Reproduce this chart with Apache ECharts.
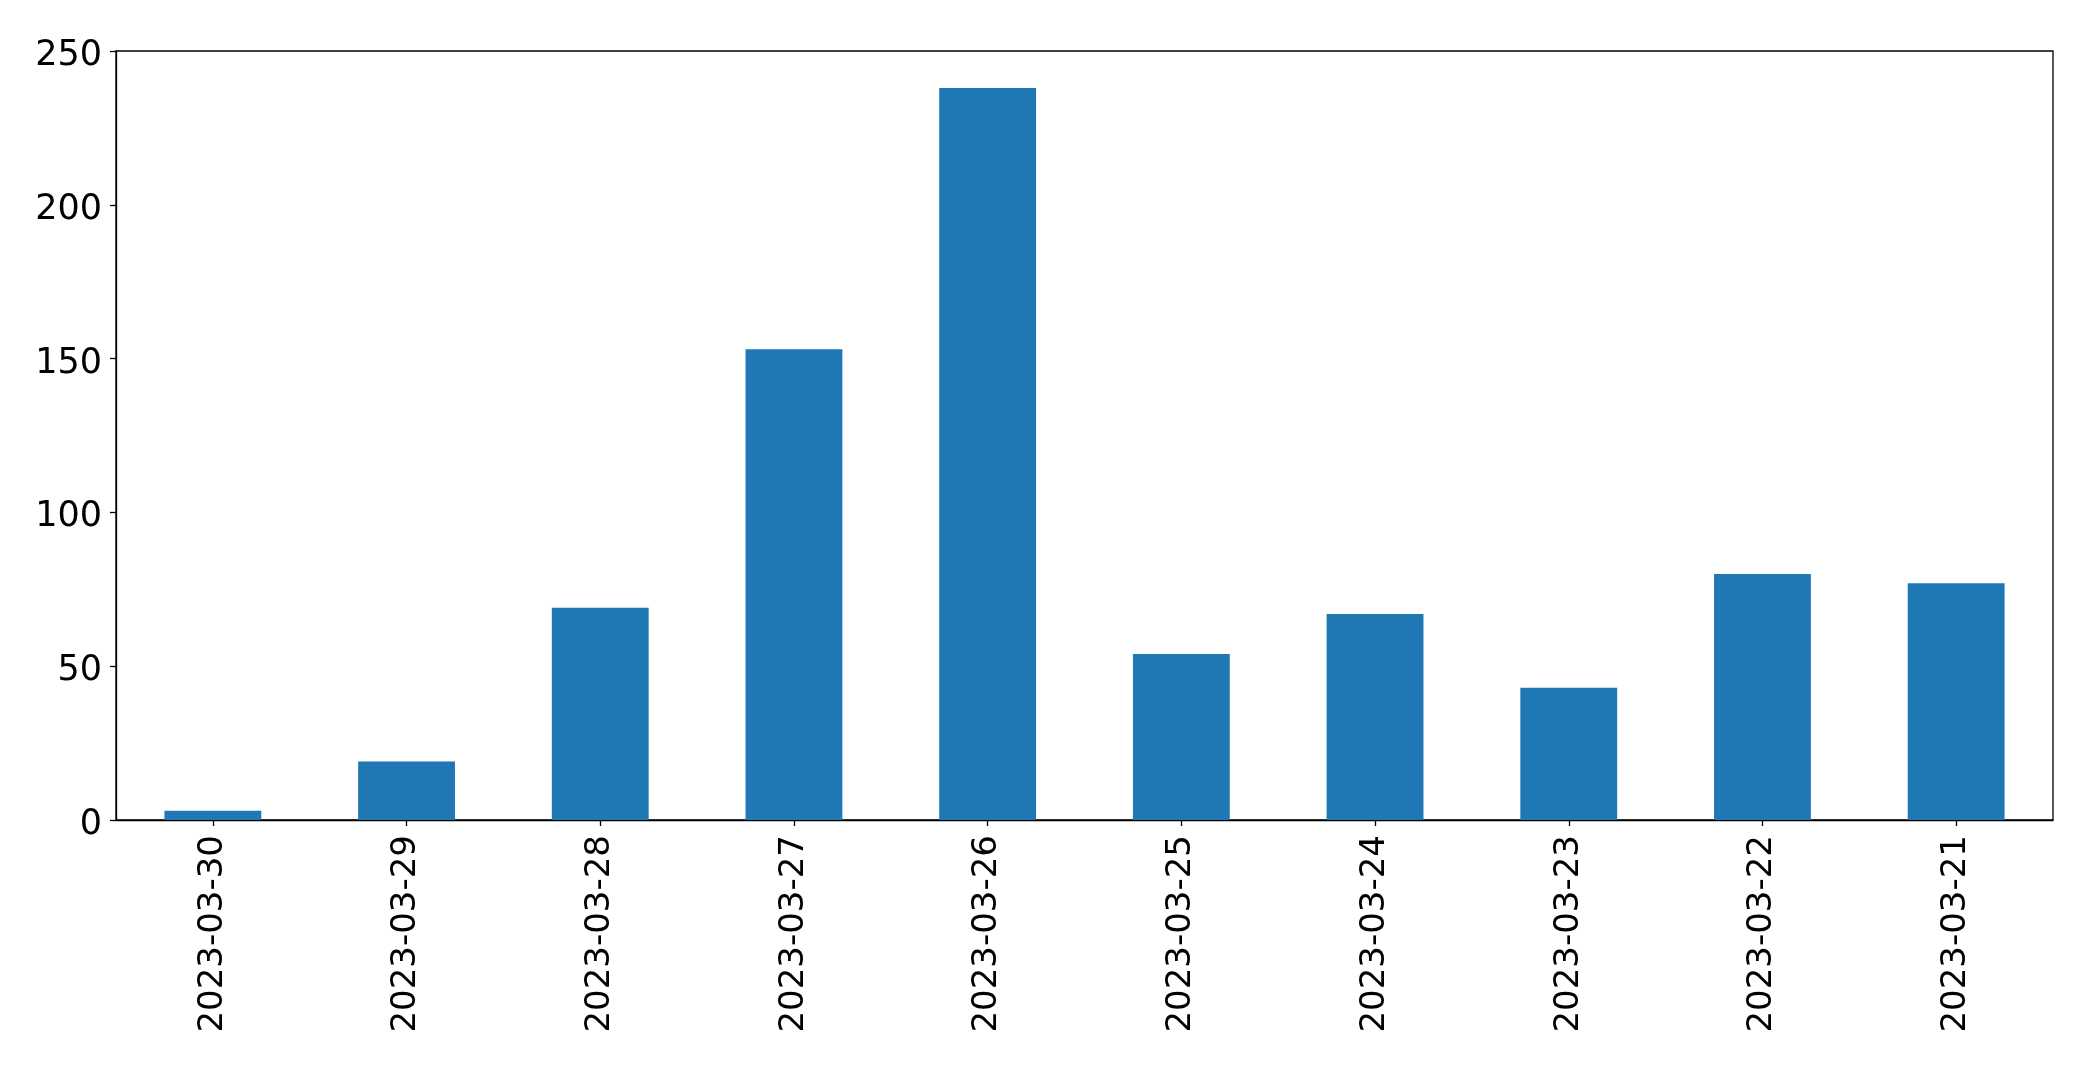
<!DOCTYPE html>
<html>
<head>
<meta charset="utf-8">
<script src="https://cdn.jsdelivr.net/npm/echarts@6/dist/echarts.min.js"></script>
<style>
  html, body { margin: 0; padding: 0; background: #fff; }
  #main { width: 2093px; height: 1072px; }
</style>
</head>
<body>
<div id="main"></div>
<script>
// 数据
var dates = ['2023-03-30', '2023-03-29', '2023-03-28', '2023-03-27', '2023-03-26',
             '2023-03-25', '2023-03-24', '2023-03-23', '2023-03-22', '2023-03-21'];
var counts = [3, 19, 69, 153, 238, 54, 67, 43, 80, 77];
var yTicks = [0, 50, 100, 150, 200, 250];

var chart = echarts.init(document.getElementById('main'));
var font = 'DejaVu Sans';

chart.setOption({
    animation: false,
    backgroundColor: '#ffffff',
    grid: {
        left: 116, right: 40, top: 51, bottom: 252,
        show: true, borderColor: '#000', borderWidth: 1.3, backgroundColor: 'transparent'
    },
    xAxis: {
        type: 'category',
        data: dates,
        boundaryGap: true,
        axisLine: { show: true, lineStyle: { color: '#000', width: 1.3 } },
        axisTick: { show: true, alignWithLabel: true, length: 6, lineStyle: { color: '#000', width: 1.3 } },
        axisLabel: { rotate: 90, margin: 15, color: '#000', fontSize: 34, fontFamily: font, interval: 0 },
        splitLine: { show: false }
    },
    yAxis: {
        type: 'value',
        min: yTicks[0],
        max: yTicks[yTicks.length - 1],
        interval: 50,
        axisLine: { show: true, lineStyle: { color: '#000', width: 1.3 } },
        axisTick: { show: true, length: 6, lineStyle: { color: '#000', width: 1.3 } },
        axisLabel: {
            margin: 14,
            formatter: function (v) { return '{t|' + v + '}'; },
            rich: { t: { color: '#000', fontSize: 35, fontFamily: font, padding: [10, 0, 0, 0] } }
        },
        splitLine: { show: false }
    },
    series: [{
        type: 'bar',
        data: counts,
        barWidth: '50%',
        itemStyle: { color: '#1f77b4' }
    }]
});
</script>
</body>
</html>
